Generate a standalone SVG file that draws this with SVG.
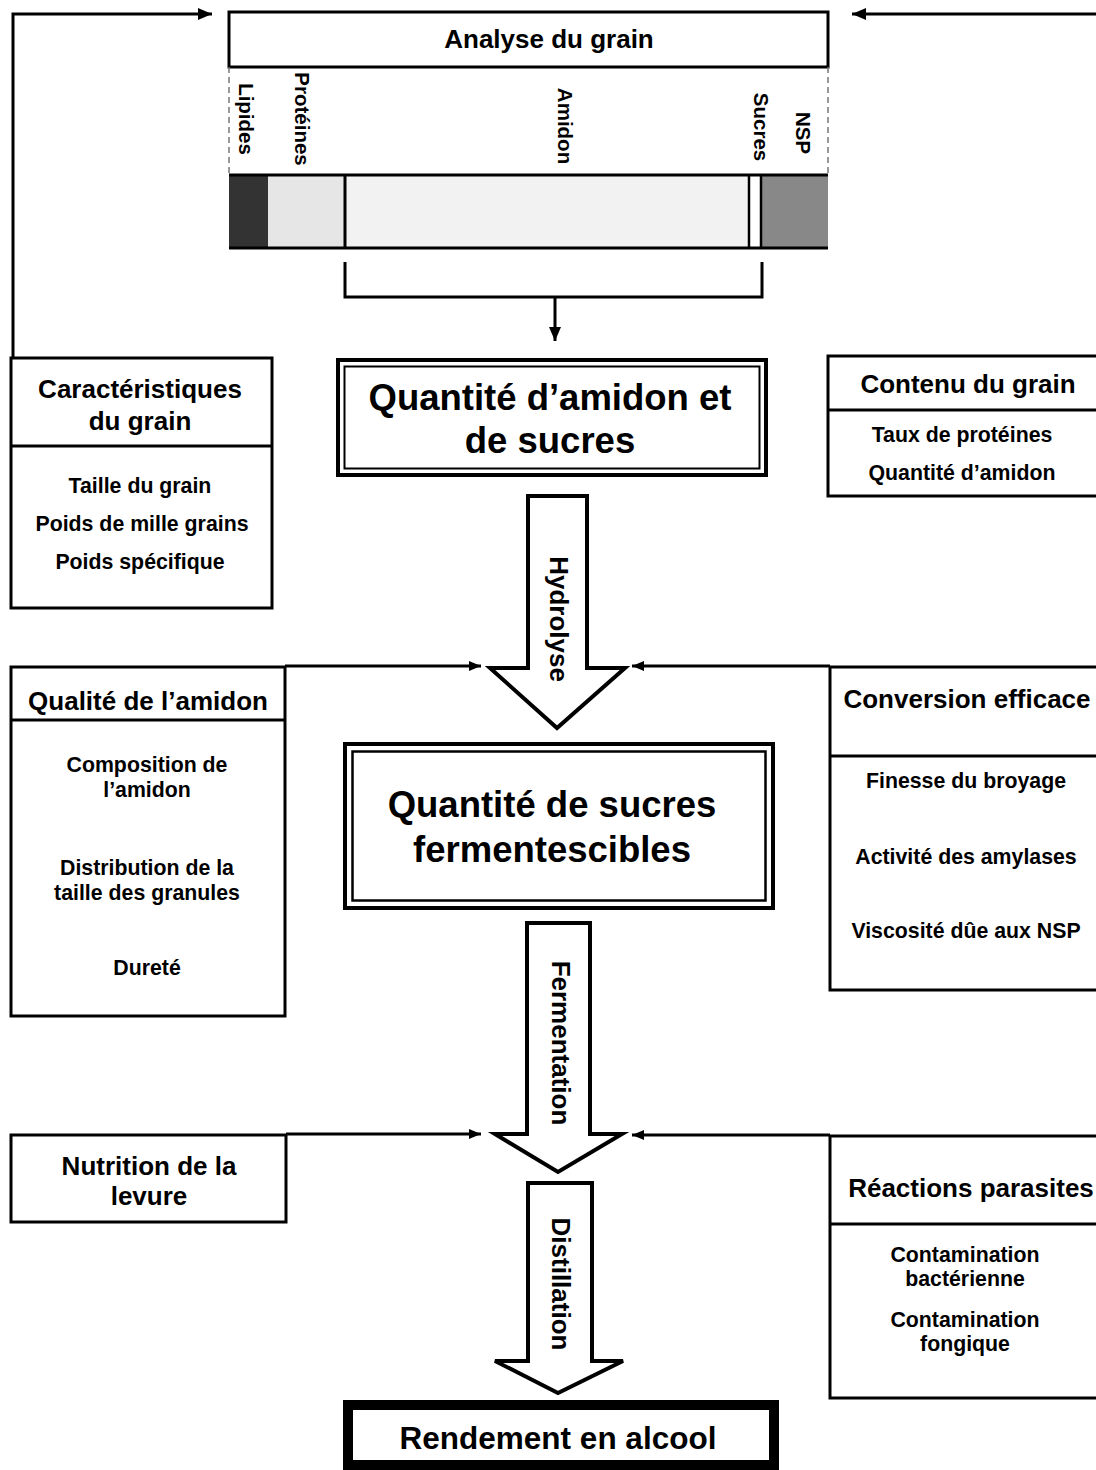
<svg xmlns="http://www.w3.org/2000/svg" width="1096" height="1470" viewBox="0 0 1096 1470">
<defs>
<marker id="ah" viewBox="0 0 12 10" refX="12" refY="5" markerWidth="12" markerHeight="10" markerUnits="userSpaceOnUse" orient="auto">
<path d="M0,0 L12,5 L0,10 Z" fill="#000"/>
</marker>
<marker id="ah2" viewBox="0 0 14 12" refX="14" refY="6" markerWidth="14" markerHeight="12" markerUnits="userSpaceOnUse" orient="auto">
<path d="M0,0 L14,6 L0,12 Z" fill="#000"/>
</marker>
</defs>
<style>
text{font-family:"Liberation Sans",Arial,sans-serif;font-weight:bold;fill:#000;text-anchor:middle}
.box{fill:#fff;stroke:#000;stroke-width:3}
.sep{stroke:#000;stroke-width:3}
.hd{font-size:26px}
.it{font-size:21.3px}
.big{font-size:36.5px}
.vl{font-size:20.5px;dominant-baseline:central}
.va{font-size:26px;dominant-baseline:central}
.con{fill:none;stroke:#000;stroke-width:3}
.blk{fill:#fff;stroke:#000;stroke-width:4;stroke-linejoin:miter}
</style>
<rect width="1096" height="1470" fill="#fff"/>

<g id="connectors">
<polyline class="con" points="13,358 13,14 212,14" marker-end="url(#ah2)"/>
<line class="con" x1="1100" y1="14" x2="852" y2="14" marker-end="url(#ah2)"/>
<polyline class="con" points="345,262 345,297 762,297 762,262"/>
<line class="con" x1="555" y1="297" x2="555" y2="341" marker-end="url(#ah2)"/>
<line class="con" x1="285" y1="666" x2="481" y2="666" marker-end="url(#ah)"/>
<line class="con" x1="830" y1="666" x2="632" y2="666" marker-end="url(#ah)"/>
<line class="con" x1="286" y1="1134" x2="481" y2="1134" marker-end="url(#ah)"/>
<line class="con" x1="830" y1="1135" x2="632" y2="1135" marker-end="url(#ah)"/>
</g>

<g id="analyse">
<rect class="box" x="229" y="12" width="599" height="55"/>
<text class="hd" x="549" y="48">Analyse du grain</text>
<line x1="229" y1="67" x2="229" y2="175" stroke="#777" stroke-width="1.5" stroke-dasharray="6,4"/>
<line x1="828" y1="67" x2="828" y2="175" stroke="#777" stroke-width="1.5" stroke-dasharray="6,4"/>
<rect x="229" y="175" width="39" height="73" fill="#333"/>
<rect x="268" y="175" width="77" height="73" fill="#e6e6e6"/>
<rect x="345" y="175" width="404" height="73" fill="#f2f2f2"/>
<rect x="749" y="175" width="12" height="73" fill="#fff"/>
<rect x="761" y="175" width="67" height="73" fill="#888"/>
<line x1="229" y1="175" x2="828" y2="175" stroke="#000" stroke-width="3"/>
<line x1="229" y1="248" x2="828" y2="248" stroke="#000" stroke-width="3"/>
<line x1="345" y1="175" x2="345" y2="248" stroke="#000" stroke-width="3"/>
<line x1="749" y1="175" x2="749" y2="248" stroke="#000" stroke-width="2.5"/>
<line x1="761" y1="175" x2="761" y2="248" stroke="#000" stroke-width="2.5"/>
<text class="vl" transform="translate(246,119) rotate(90)">Lipides</text>
<text class="vl" transform="translate(302,119) rotate(90)">Protéines</text>
<text class="vl" transform="translate(565,126) rotate(90)">Amidon</text>
<text class="vl" transform="translate(761,127) rotate(90)">Sucres</text>
<text class="vl" transform="translate(803,133) rotate(90)">NSP</text>
</g>

<g id="caracteristiques">
<rect class="box" x="11" y="358" width="261" height="250"/>
<line class="sep" x1="11" y1="446" x2="272" y2="446"/>
<text class="hd" x="140" y="398">Caractéristiques</text>
<text class="hd" x="140" y="430">du grain</text>
<text class="it" x="140" y="493">Taille du grain</text>
<text class="it" x="142" y="531">Poids de mille grains</text>
<text class="it" x="140" y="569">Poids spécifique</text>
</g>

<g id="amidon-sucres">
<rect x="338" y="360" width="428" height="115" fill="#fff" stroke="#000" stroke-width="4"/>
<rect x="344.5" y="366.5" width="415" height="102" fill="none" stroke="#000" stroke-width="2"/>
<text class="big" x="550" y="410">Quantité d’amidon et</text>
<text class="big" x="550" y="453">de sucres</text>
</g>

<g id="contenu">
<rect class="box" x="828" y="356" width="280" height="140"/>
<line class="sep" x1="828" y1="410" x2="1100" y2="410"/>
<text class="hd" x="968" y="393">Contenu du grain</text>
<text class="it" x="962" y="442">Taux de protéines</text>
<text class="it" x="962" y="480">Quantité d’amidon</text>
</g>

<g id="hydrolyse">
<path class="blk" d="M528,496 H587 V668 H625 L557,728 L490,668 H528 Z"/>
<text class="va" transform="translate(559,619) rotate(90)">Hydrolyse</text>
</g>

<g id="qualite">
<rect class="box" x="11" y="667" width="274" height="349"/>
<line class="sep" x1="11" y1="720" x2="285" y2="720"/>
<text class="hd" x="148" y="710">Qualité de l’amidon</text>
<text class="it" x="147" y="772">Composition de</text>
<text class="it" x="147" y="797">l’amidon</text>
<text class="it" x="147" y="875">Distribution de la</text>
<text class="it" x="147" y="900">taille des granules</text>
<text class="it" x="147" y="975">Dureté</text>
</g>

<g id="conversion">
<rect class="box" x="830" y="667" width="280" height="323"/>
<line class="sep" x1="830" y1="756" x2="1100" y2="756"/>
<text class="hd" x="967" y="708">Conversion efficace</text>
<text class="it" x="966" y="788">Finesse du broyage</text>
<text class="it" x="966" y="864">Activité des amylases</text>
<text class="it" x="966" y="938">Viscosité dûe aux NSP</text>
</g>

<g id="sucres-fermentescibles">
<rect x="345" y="744" width="428" height="164" fill="#fff" stroke="#000" stroke-width="4"/>
<rect x="352.5" y="751.5" width="413" height="149" fill="none" stroke="#000" stroke-width="2.5"/>
<text class="big" x="552" y="817">Quantité de sucres</text>
<text class="big" x="552" y="862">fermentescibles</text>
</g>

<g id="fermentation">
<path class="blk" d="M527,923 H590 V1134 H622 L558,1172 L495,1134 H527 Z"/>
<text class="va" transform="translate(561,1043) rotate(90)">Fermentation</text>
</g>

<g id="nutrition">
<rect class="box" x="11" y="1135" width="275" height="87"/>
<text class="hd" x="149" y="1175">Nutrition de la</text>
<text class="hd" x="149" y="1205">levure</text>
</g>

<g id="reactions">
<rect class="box" x="830" y="1136" width="280" height="262"/>
<line class="sep" x1="830" y1="1224" x2="1100" y2="1224"/>
<text class="hd" x="971" y="1197">Réactions parasites</text>
<text class="it" x="965" y="1262">Contamination</text>
<text class="it" x="965" y="1286">bactérienne</text>
<text class="it" x="965" y="1327">Contamination</text>
<text class="it" x="965" y="1351">fongique</text>
</g>

<g id="distillation">
<path class="blk" d="M528,1183 H592 V1361 H623 L558,1393 L495,1361 H528 Z"/>
<text class="va" transform="translate(561,1284) rotate(90)">Distillation</text>
</g>

<g id="rendement">
<rect x="348" y="1405" width="426" height="60" fill="#fff" stroke="#000" stroke-width="10"/>
<text style="font-size:31.5px" x="558" y="1449">Rendement en alcool</text>
</g>
</svg>
